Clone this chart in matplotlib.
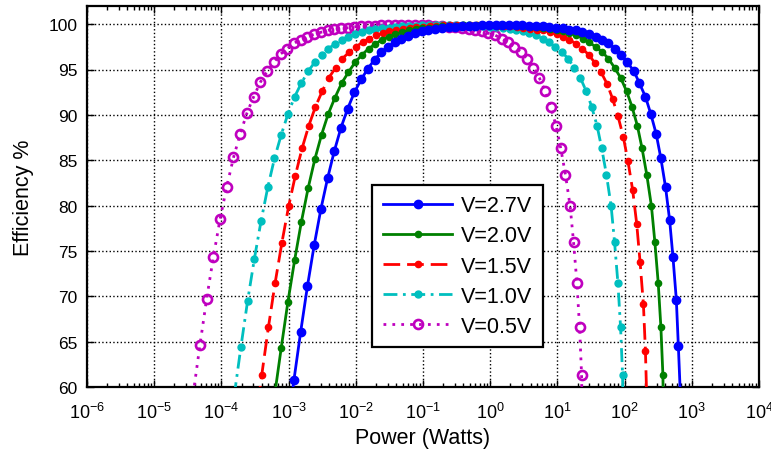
"""
Converter efficiency versus output power for five supply voltages
"""
import matplotlib
matplotlib.use("Agg")
import matplotlib.pyplot as plt
from matplotlib.ticker import LogLocator, NullFormatter

plt.rcParams["font.family"] = ["Liberation Sans", "DejaVu Sans"]
plt.rcParams["mathtext.fontset"] = "custom"
plt.rcParams["mathtext.rm"] = "Liberation Sans"
plt.rcParams["mathtext.it"] = "Liberation Sans:italic"

# log10 of output power (W) and efficiency (%) at each marker
v27_logp = [-3.02, -2.92, -2.82, -2.72, -2.62, -2.52, -2.42, -2.32, -2.22, -2.12,
            -2.02, -1.92, -1.82, -1.72, -1.62, -1.52, -1.42, -1.32, -1.22, -1.12,
            -1.02, -0.92, -0.82, -0.72, -0.62, -0.52, -0.42, -0.32, -0.22, -0.12,
            -0.02, 0.08, 0.18, 0.28, 0.38, 0.48, 0.58, 0.68, 0.78, 0.88,
            0.98, 1.08, 1.18, 1.28, 1.37, 1.47, 1.57, 1.67, 1.76, 1.86,
            1.95, 2.04, 2.14, 2.22, 2.31, 2.39, 2.47, 2.54, 2.61, 2.67,
            2.72, 2.77, 2.80, 2.83]
v27_eff = [55.2, 60.8, 66.1, 71.1, 75.6, 79.6, 83.0, 86.0, 88.6, 90.7,
           92.5, 93.9, 95.1, 96.1, 96.9, 97.5, 98.0, 98.4, 98.7, 99.0,
           99.2, 99.4, 99.5, 99.6, 99.7, 99.7, 99.8, 99.8, 99.8, 99.9,
           99.9, 99.9, 99.9, 99.9, 99.9, 99.9, 99.8, 99.8, 99.8, 99.7,
           99.6, 99.6, 99.4, 99.3, 99.1, 98.9, 98.6, 98.3, 97.9, 97.3,
           96.6, 95.8, 94.8, 93.5, 92.0, 90.1, 87.9, 85.2, 82.0, 78.4,
           74.3, 69.6, 64.5, 59.1]

v20_logp = [-3.21, -3.11, -3.01, -2.91, -2.81, -2.71, -2.61, -2.51, -2.41, -2.31,
            -2.21, -2.11, -2.01, -1.91, -1.81, -1.71, -1.61, -1.51, -1.41, -1.31,
            -1.21, -1.11, -1.01, -0.91, -0.81, -0.71, -0.61, -0.51, -0.41, -0.31,
            -0.21, -0.11, -0.01, 0.09, 0.19, 0.29, 0.39, 0.49, 0.59, 0.69,
            0.79, 0.89, 0.99, 1.09, 1.18, 1.28, 1.38, 1.47, 1.57, 1.67,
            1.76, 1.85, 1.94, 2.03, 2.11, 2.19, 2.26, 2.33, 2.40, 2.45,
            2.50, 2.54, 2.57, 2.58]
v20_eff = [59.0, 64.3, 69.4, 74.0, 78.2, 81.9, 85.1, 87.8, 90.1, 91.9,
           93.5, 94.7, 95.8, 96.6, 97.3, 97.8, 98.3, 98.6, 98.9, 99.1,
           99.3, 99.5, 99.6, 99.6, 99.7, 99.8, 99.8, 99.8, 99.9, 99.9,
           99.9, 99.9, 99.9, 99.9, 99.9, 99.9, 99.8, 99.8, 99.7, 99.7,
           99.6, 99.5, 99.4, 99.2, 99.0, 98.8, 98.4, 98.0, 97.5, 96.9,
           96.2, 95.2, 94.1, 92.6, 90.9, 88.8, 86.3, 83.4, 79.9, 76.0,
           71.5, 66.6, 61.3, 55.7]

v15_logp = [-3.50, -3.40, -3.30, -3.20, -3.10, -3.00, -2.90, -2.80, -2.70, -2.60,
            -2.50, -2.40, -2.30, -2.20, -2.10, -2.00, -1.90, -1.80, -1.70, -1.60,
            -1.50, -1.40, -1.30, -1.20, -1.10, -1.00, -0.90, -0.80, -0.70, -0.60,
            -0.50, -0.40, -0.30, -0.20, -0.10, 0.00, 0.10, 0.20, 0.30, 0.40,
            0.49, 0.59, 0.69, 0.79, 0.89, 0.99, 1.08, 1.18, 1.28, 1.37,
            1.47, 1.56, 1.65, 1.74, 1.82, 1.90, 1.98, 2.05, 2.12, 2.18,
            2.23, 2.28, 2.31, 2.33]
v15_eff = [55.7, 61.3, 66.6, 71.5, 75.9, 79.9, 83.3, 86.3, 88.8, 90.9,
           92.6, 94.1, 95.2, 96.2, 96.9, 97.5, 98.0, 98.4, 98.8, 99.0,
           99.2, 99.4, 99.5, 99.6, 99.7, 99.7, 99.8, 99.8, 99.9, 99.9,
           99.9, 99.9, 99.9, 99.9, 99.9, 99.9, 99.8, 99.8, 99.8, 99.7,
           99.6, 99.5, 99.4, 99.3, 99.1, 98.9, 98.6, 98.3, 97.8, 97.3,
           96.6, 95.7, 94.7, 93.4, 91.8, 89.9, 87.6, 84.9, 81.7, 78.0,
           73.8, 69.1, 64.0, 58.5]

v10_logp = [-3.81, -3.71, -3.61, -3.51, -3.41, -3.31, -3.21, -3.11, -3.01, -2.91,
            -2.81, -2.71, -2.61, -2.51, -2.41, -2.31, -2.21, -2.11, -2.01, -1.91,
            -1.81, -1.71, -1.61, -1.51, -1.41, -1.31, -1.21, -1.11, -1.01, -0.91,
            -0.81, -0.71, -0.61, -0.51, -0.41, -0.31, -0.21, -0.11, -0.01, 0.09,
            0.19, 0.29, 0.39, 0.49, 0.58, 0.68, 0.78, 0.87, 0.97, 1.07,
            1.16, 1.25, 1.34, 1.43, 1.51, 1.59, 1.66, 1.73, 1.80, 1.85,
            1.90, 1.94, 1.97, 1.98]
v10_eff = [59.0, 64.4, 69.5, 74.1, 78.3, 82.0, 85.2, 87.8, 90.1, 92.0,
           93.5, 94.8, 95.8, 96.6, 97.3, 97.8, 98.3, 98.6, 98.9, 99.1,
           99.3, 99.5, 99.6, 99.6, 99.7, 99.8, 99.8, 99.8, 99.9, 99.9,
           99.9, 99.9, 99.9, 99.9, 99.9, 99.9, 99.8, 99.8, 99.7, 99.7,
           99.6, 99.5, 99.4, 99.2, 99.0, 98.8, 98.4, 98.0, 97.5, 96.9,
           96.2, 95.2, 94.1, 92.6, 90.9, 88.8, 86.3, 83.4, 79.9, 76.0,
           71.5, 66.6, 61.3, 55.7]

v05_logp = [-4.42, -4.32, -4.22, -4.12, -4.02, -3.92, -3.82, -3.72, -3.62, -3.52,
            -3.42, -3.32, -3.22, -3.12, -3.02, -2.92, -2.82, -2.72, -2.62, -2.52,
            -2.42, -2.32, -2.22, -2.12, -2.02, -1.92, -1.82, -1.72, -1.62, -1.52,
            -1.42, -1.32, -1.22, -1.12, -1.02, -0.92, -0.82, -0.72, -0.62, -0.52,
            -0.42, -0.32, -0.22, -0.12, -0.03, 0.07, 0.17, 0.26, 0.36, 0.46,
            0.55, 0.64, 0.73, 0.82, 0.90, 0.98, 1.05, 1.12, 1.19, 1.24,
            1.29, 1.33, 1.36, 1.37]
v05_eff = [59.2, 64.6, 69.7, 74.3, 78.5, 82.1, 85.3, 87.9, 90.2, 92.0,
           93.6, 94.8, 95.8, 96.7, 97.3, 97.9, 98.3, 98.6, 98.9, 99.1,
           99.3, 99.5, 99.6, 99.6, 99.7, 99.8, 99.8, 99.8, 99.9, 99.9,
           99.9, 99.9, 99.9, 99.9, 99.9, 99.9, 99.8, 99.8, 99.7, 99.7,
           99.6, 99.5, 99.4, 99.2, 99.0, 98.8, 98.4, 98.0, 97.5, 96.9,
           96.2, 95.2, 94.1, 92.6, 90.9, 88.8, 86.3, 83.4, 79.9, 76.0,
           71.5, 66.6, 61.3, 55.7]

labels = ["V=2.7V", "V=2.0V", "V=1.5V", "V=1.0V", "V=0.5V"]
x_exponents = list(range(-6, 5))
y_ticks = [60, 65, 70, 75, 80, 85, 90, 95, 100]

series = [
    (v27_logp, v27_eff, (0, 0, 1), "-", 6, True),
    (v20_logp, v20_eff, (0, 0.5, 0), "-", 4.5, True),
    (v15_logp, v15_eff, (1, 0, 0), (0, (6, 2.5)), 4.5, True),
    (v10_logp, v10_eff, (0, 0.75, 0.75), (0, (5, 2, 1, 2)), 5, True),
    (v05_logp, v05_eff, (0.75, 0, 0.75), (0, (1, 2.2)), 6.5, False),
]

fig = plt.figure(figsize=(7.71, 4.56), dpi=100)
ax = fig.add_axes([87 / 771, 68 / 456, 672 / 771, 381 / 456])

for i, (logp, eff, color, ls, ms, filled) in enumerate(series):
    power = [10.0 ** v for v in logp]
    ax.plot(power, eff, color=color, linestyle=ls, linewidth=2, marker="o",
            markersize=ms, markerfacecolor=color if filled else "none",
            markeredgewidth=1 if filled else 1.9, label=labels[i], zorder=10 - i)

ax.set_xscale("log")
ax.set_xlim(1e-6, 1e4)
ax.set_ylim(60, 102)
ax.set_xticks([10.0 ** k for k in x_exponents])
ax.set_xticklabels([r"$10^{%d}$" % k for k in x_exponents])
ax.xaxis.set_minor_locator(LogLocator(base=10, subs=range(2, 10), numticks=100))
ax.xaxis.set_minor_formatter(NullFormatter())
ax.set_yticks(y_ticks)

ax.tick_params(which="both", direction="in", top=True, right=True, labelsize=12.5, width=1)
ax.tick_params(which="major", length=5, pad=7)
ax.tick_params(which="minor", length=3)
ax.tick_params(axis="x", which="major", pad=11, labelsize=13)
ax.grid(True, which="major", color="k", linestyle=":", linewidth=1)
for spine in ax.spines.values():
    spine.set_linewidth(1.6)

ax.set_xlabel("Power (Watts)", fontsize=15.5, labelpad=3)
ax.set_ylabel("Efficiency %", fontsize=15.5, labelpad=10)

leg = ax.legend(loc="upper left", bbox_to_anchor=(0.4246, 0.531), borderaxespad=0,
                fontsize=15.5, handlelength=3.2, handletextpad=0.4, labelspacing=0.42,
                fancybox=False, framealpha=1, edgecolor="k", borderpad=0.5)
leg.get_frame().set_linewidth(1.6)

fig.savefig("out.png")
